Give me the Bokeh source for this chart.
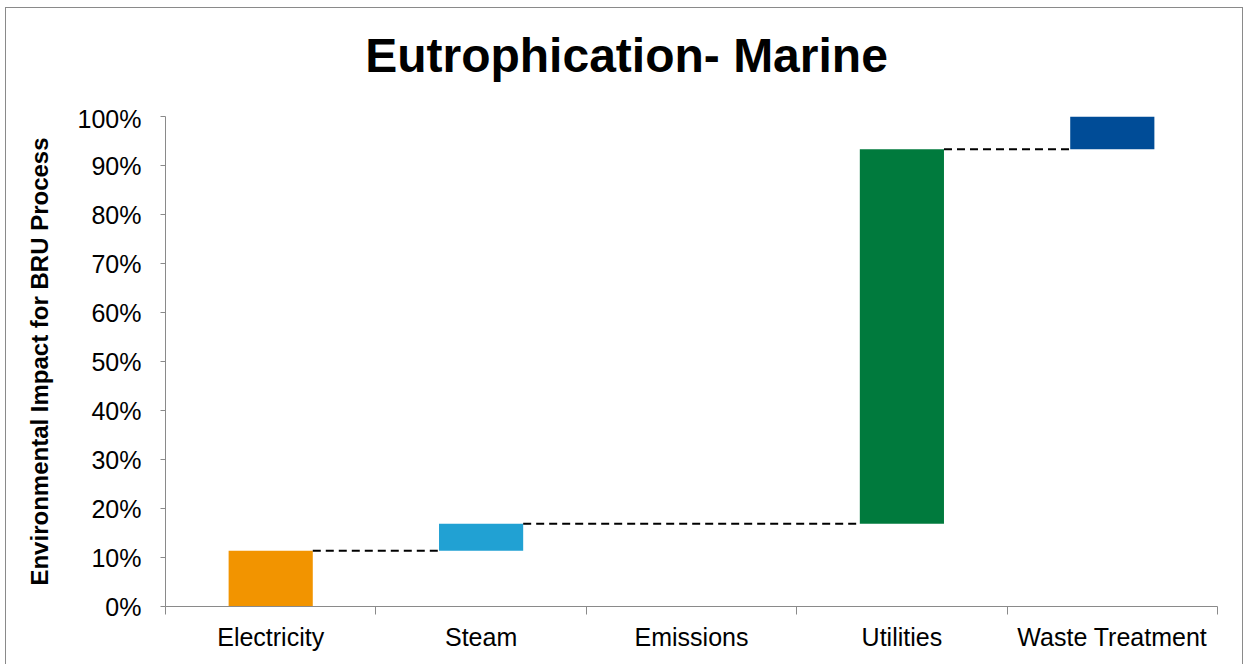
import numpy as np
from bokeh.plotting import figure
from bokeh.layouts import column
from bokeh.models import Range1d, FixedTicker, ColumnDataSource, Div
from bokeh.embed import file_html
from bokeh.resources import INLINE

categories = ["Electricity", "Steam", "Emissions", "Utilities", "Waste Treatment"]
values = [11.4, 5.5, 0.0, 76.4, 6.7]
colors = ["#F29400", "#21A1D3", "#FFFFFF", "#007A3D", "#004C97"]
y_ticks = [0, 10, 20, 30, 40, 50, 60, 70, 80, 90, 100]
title_text = "Eutrophication- Marine"

FONT = "Liberation Sans"
BAR_W = 0.4

xs = np.arange(len(categories)) + 0.5
tops = np.cumsum(values)
bottoms = tops - np.array(values)

p = figure(width=1236, height=560, output_backend="svg", toolbar_location=None,
           x_range=Range1d(0, len(categories)), y_range=Range1d(0, 100),
           min_border_left=159, min_border_right=25, min_border_top=12, min_border_bottom=58)
p.outline_line_color = None
p.xgrid.visible = False
p.ygrid.visible = False
p.title.visible = False
p.margin = 0

# bars (skip zero-height)
nz = [i for i, v in enumerate(values) if v > 0]
bsrc = ColumnDataSource(dict(x=xs[nz], top=tops[nz], bottom=bottoms[nz], color=[colors[i] for i in nz]))
p.vbar(x="x", top="top", bottom="bottom", width=BAR_W, fill_color="color", line_color=None, source=bsrc)

# connectors between consecutive non-zero bars
x0s, x1s, ys = [], [], []
for a, b in zip(nz[:-1], nz[1:]):
    x0s.append(xs[a] + BAR_W / 2)
    x1s.append(xs[b] - BAR_W / 2)
    ys.append(tops[a])
p.segment(x0=x0s, y0=ys, x1=x1s, y1=ys, line_color="black", line_width=2, line_dash="8 5")

# y axis
ya = p.yaxis[0]
ya.ticker = FixedTicker(ticks=y_ticks)
ya.major_label_overrides = {t: f"{t}%" for t in y_ticks}
ya.minor_tick_line_color = None
ya.major_tick_in = 0
ya.major_tick_out = 5
ya.axis_line_color = "#8a8a8a"
ya.major_tick_line_color = "#8a8a8a"
ya.major_label_text_font = FONT
ya.major_label_text_font_size = "25px"
ya.major_label_text_color = "black"
ya.major_label_standoff = 19
ya.axis_label = "Environmental Impact for BRU Process"
ya.axis_label_text_font = FONT
ya.axis_label_text_font_size = "24px"
ya.axis_label_text_font_style = "bold"
ya.axis_label_text_color = "black"
ya.axis_label_standoff = 22

# x axis
xa = p.xaxis[0]
xa.ticker = FixedTicker(ticks=list(xs), minor_ticks=list(range(len(categories) + 1)))
xa.major_label_overrides = {float(x): c for x, c in zip(xs, categories)}
xa.major_tick_line_color = None
xa.minor_tick_line_color = "#8a8a8a"
xa.minor_tick_in = 0
xa.minor_tick_out = 8
xa.axis_line_color = "#8a8a8a"
xa.major_label_text_font = FONT
xa.major_label_text_font_size = "25px"
xa.major_label_text_color = "black"
xa.major_label_standoff = 8

# title block above the plot
title = Div(text=title_text, width=1236, height=96, margin=0,
            styles={"font-family": FONT, "font-size": "48px", "font-weight": "bold",
                    "color": "black", "text-align": "center", "line-height": "48px",
                    "padding-top": "24px", "padding-left": "5px", "box-sizing": "border-box",
                    "width": "1236px", "height": "96px"})

layout = column(title, p, spacing=0, margin=0,
                styles={"margin-left": "5px", "margin-top": "7px",
                        "border": "1px solid #8a8a8a", "background": "white"})

open("out.html", "w").write(file_html(layout, INLINE))
